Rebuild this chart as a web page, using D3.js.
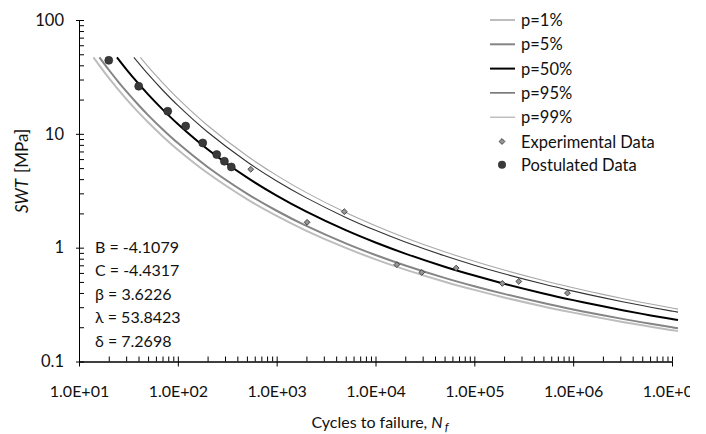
<!DOCTYPE html>
<html lang="en">
<head>
<meta charset="UTF-8"/>
<title>SWT fatigue curves</title>
<script src="https://d3js.org/d3.v7.min.js"></script>
<style>
	body { margin: 0; background: #fff; }
	text { font-family: Lato, "Open Sans", sans-serif; fill: #111; }
</style>
</head>
<body>
<script>
	var w = 706;	// Width of the SVG
	var h = 434;	// Height of the SVG

	// Percentile curves: [cycles, SWT]
	var p1 = [[14,47.0],[15,43.26],[20,31.04],[30,20.30],[40,15.42],[50,12.63],[70,9.544],[100,7.258],[200,4.524],[500,2.670],[1e3,1.899],[2e3,1.4065],[5e3,0.9947],[1e4,0.790],[2e4,0.642],[5e4,0.5025],[1e5,0.4256],[2e5,0.3656],[5e5,0.3047],[1e6,0.2688],[2e6,0.2393],[5e6,0.2079],[1e7,0.1885],[1.15e7,0.1849]];
	var p5 = [[16.1,47.0],[20,36.55],[25,28.62],[30,23.69],[40,17.90],[50,14.60],[70,10.97],[100,8.292],[200,5.118],[500,2.988],[1e3,2.110],[2e3,1.553],[5e3,1.0906],[1e4,0.862],[2e4,0.6974],[5e4,0.5432],[1e5,0.4584],[2e5,0.3926],[5e5,0.326],[1e6,0.2868],[2e6,0.2547],[5e6,0.2206],[1e7,0.1996],[1.15e7,0.1958]];
	var p50 = [[24.2,47.0],[30,37.10],[40,27.57],[50,22.22],[70,16.41],[100,12.21],[200,7.322],[500,4.141],[1e3,2.865],[2e3,2.0707],[5e3,1.4239],[1e4,1.11],[2e4,0.8869],[5e4,0.6807],[1e5,0.5688],[2e5,0.4826],[5e5,0.3963],[1e6,0.3461],[2e6,0.3053],[5e6,0.2621],[1e7,0.2358],[1.15e7,0.231]];
	var p95 = [[35.9,47.0],[40,41.94],[50,33.42],[70,24.27],[100,17.77],[200,10.37],[500,5.684],[1e3,3.855],[2e3,2.738],[5e3,1.845],[1e4,1.419],[2e4,1.12],[5e4,0.8474],[1e5,0.7013],[2e5,0.5897],[5e5,0.4792],[1e6,0.4154],[2e6,0.3639],[5e6,0.31],[1e7,0.2772],[1.15e7,0.2713]];
	var p99 = [[41.7,47.0],[50,39.01],[60,32.58],[70,28.15],[100,20.48],[200,11.83],[500,6.411],[1e3,4.315],[2e3,3.044],[5e3,2.036],[1e4,1.558],[2e4,1.2237],[5e4,0.9208],[1e5,0.7593],[2e5,0.6363],[5e5,0.5149],[1e6,0.4451],[2e6,0.389],[5e6,0.3303],[1e7,0.2947],[1.15e7,0.2883]];

	var experimental = [[547,4.88],[2032,1.67],[4840,2.07],[16440,0.709],[29400,0.606],[65500,0.662],[192000,0.485],[281800,0.505],[875000,0.399]];
	var postulated = [[20.0,44.2],[40.2,26.2],[79,15.8],[120,11.7],[178.6,8.32],[247.6,6.58],[295.8,5.75],[347.5,5.12]];

	var curveLabels = ["p=1%","p=5%","p=50%","p=95%","p=99%"];
	var params = ["B = -4.1079","C = -4.4317","\u03b2 = 3.6226","\u03bb = 53.8423","\u03b4 = 7.2698"];
	var xTicks = [1e1,1e2,1e3,1e4,1e5,1e6,1e7];
	var yTicks = [0.1,1,10,100];

	var curves = [p1,p5,p50,p95,p99];
	var curveStyle = [
		{stroke:"#bdbdbd", width:2},
		{stroke:"#858585", width:2},
		{stroke:"#000000", width:2},
		{stroke:"#333333", width:1.1},
		{stroke:"#a8a8a8", width:1.1}
	];

	var plotL = 79, plotR = 672, plotT = 20, plotB = 361.5;

	var xScale = d3.scaleLog().domain([1e1,1e7]).range([plotL,plotR]);
	var yScale = d3.scaleLog().domain([0.1,100]).range([plotB,plotT]);

	// minor ticks 2..9 in each decade
	function minors(lo, hi) {
		var out = [];
		for (var d = lo; d < hi * 0.999; d *= 10)
			for (var k = 2; k <= 9; k++) out.push(d*k);
		return out;
	}
	function sci(d) {
		var e = Math.round(Math.log10(d));
		return "1.0E+" + (e < 10 ? "0" : "") + e;
	}

	var svg = d3.select("body").append("svg")
		.attr("width",w)
		.attr("height",h);

	var defs = svg.append("defs");
	defs.append("clipPath").attr("id","plot")
		.append("rect").attr("x",plotL).attr("y",plotT-2).attr("width",plotR-plotL+8).attr("height",plotB-plotT+2);
	defs.append("clipPath").attr("id","page")
		.append("rect").attr("x",0).attr("y",0).attr("width",690).attr("height",h);

	// x axis: majors cross the line, minors point up
	var gx = svg.append("g").attr("clip-path","url(#page)")
		.append("g").attr("transform","translate(0,"+plotB+")");
	gx.call(d3.axisBottom(xScale).tickValues(xTicks).tickSizeInner(5).tickSizeOuter(0).tickPadding(19).tickFormat(sci));
	gx.append("g").call(d3.axisTop(xScale).tickValues(xTicks.concat(minors(1e1,1e7))).tickSize(5).tickSizeOuter(0).tickFormat(""));
	gx.selectAll("text").style("font-size","16px").attr("fill","#111");
	gx.selectAll(".domain").attr("stroke","#000");

	// y axis
	var gy = svg.append("g").attr("transform","translate("+plotL+",0)");
	gy.call(d3.axisLeft(yScale).tickValues(yTicks).tickSizeInner(3).tickSizeOuter(0).tickPadding(12).tickFormat(d3.format("")));
	gy.append("g").call(d3.axisRight(yScale).tickValues(yTicks.concat(minors(0.1,100))).tickSize(5).tickSizeOuter(0).tickFormat(""));
	gy.selectAll("text").style("font-size","16.5px").attr("fill","#111");

	// curves
	var line = d3.line()
		.x(function(d){ return xScale(d[0]); })
		.y(function(d){ return yScale(d[1]); })
		.curve(d3.curveCatmullRom);

	svg.append("g").attr("clip-path","url(#plot)")
		.selectAll("path")
		.data(curves)
		.enter()
		.append("path")
		.attr("d",line)
		.attr("fill","none")
		.attr("stroke",function(d,i){ return curveStyle[i].stroke; })
		.attr("stroke-width",function(d,i){ return curveStyle[i].width; });

	// experimental points (small square diamonds)
	var diamond = d3.symbol().type(d3.symbolSquare).size(17);
	svg.selectAll(".exp")
		.data(experimental)
		.enter()
		.append("path")
		.attr("class","exp")
		.attr("d",diamond)
		.attr("transform",function(d){ return "translate("+xScale(d[0])+","+yScale(d[1])+") rotate(45)"; })
		.attr("fill","#959595")
		.attr("stroke","#333")
		.attr("stroke-width",0.8);

	// postulated points
	svg.selectAll(".post")
		.data(postulated)
		.enter()
		.append("circle")
		.attr("class","post")
		.attr("cx",function(d){ return xScale(d[0]); })
		.attr("cy",function(d){ return yScale(d[1]); })
		.attr("r",4)
		.attr("fill","#3a3a3a")
		.attr("stroke","#222")
		.attr("stroke-width",0.6);

	// legend
	var lg = svg.append("g").attr("transform","translate(490,20)");
	curveLabels.forEach(function(t,i){
		var yy = i*24.3;
		lg.append("line").attr("x1",0).attr("x2",25).attr("y1",yy).attr("y2",yy)
			.attr("stroke",curveStyle[i].stroke).attr("stroke-width",curveStyle[i].width);
		lg.append("text").attr("x",31).attr("y",yy+6).style("font-size","16.5px").text(t);
	});
	lg.append("path").attr("d",diamond).attr("transform","translate(12,"+(5*24.3)+") rotate(45)")
		.attr("fill","#959595").attr("stroke","#333").attr("stroke-width",0.8);
	lg.append("text").attr("x",31).attr("y",5*24.3+6).style("font-size","16.5px").text("Experimental Data");
	lg.append("circle").attr("cx",12).attr("cy",6*24.3-1).attr("r",4).attr("fill","#3a3a3a");
	lg.append("text").attr("x",31).attr("y",6*24.3+5).style("font-size","16.5px").text("Postulated Data");

	// model parameters
	svg.selectAll(".param")
		.data(params)
		.enter()
		.append("text")
		.attr("class","param")
		.attr("x",95)
		.attr("y",function(d,i){ return 253 + i*23.4; })
		.style("font-size","16px")
		.text(function(d){ return d; });

	// axis titles
	var xt = svg.append("text")
		.attr("x",380)
		.attr("y",428)
		.attr("text-anchor","middle")
		.style("font-size","16px");
	xt.append("tspan").text("Cycles to failure, ");
	xt.append("tspan").style("font-style","italic").text("N");
	xt.append("tspan").style("font-style","italic").style("font-size","12px").attr("dy",3).attr("dx",2).text("f");

	var yt = svg.append("text")
		.attr("transform","rotate(-90)")
		.attr("x",-171)
		.attr("y",28)
		.attr("text-anchor","middle")
		.style("font-size","17px");
	yt.append("tspan").style("font-style","italic").text("SWT");
	yt.append("tspan").attr("dx",6).text("[MPa]");
</script>
</body>
</html>
